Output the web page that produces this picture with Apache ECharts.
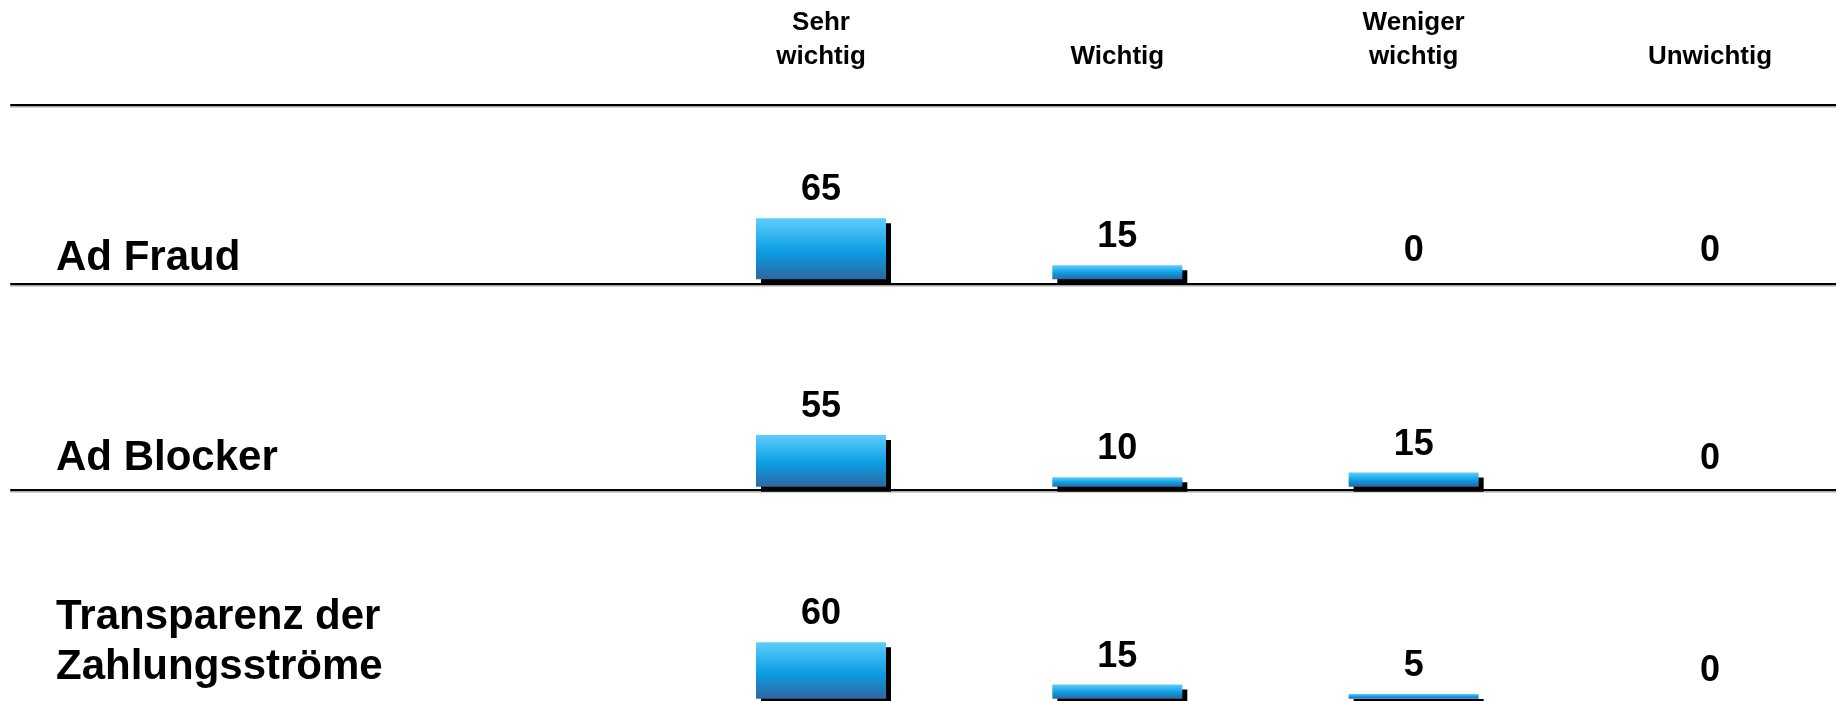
<!DOCTYPE html>
<html>
<head>
<meta charset="utf-8">
<script src="https://cdn.jsdelivr.net/npm/echarts@6/dist/echarts.min.js"></script>
<style>
html,body{margin:0;padding:0;background:#fff;}
#chart{width:1836px;height:701px;}
</style>
</head>
<body>
<div id="chart"></div>
<script>
// ---- data ----
var categories = ['Sehr wichtig', 'Wichtig', 'Weniger wichtig', 'Unwichtig'];
var headerLabels = ['Sehr\nwichtig', 'Wichtig', 'Weniger\nwichtig', 'Unwichtig'];
var rowLabels = ['Ad Fraud', 'Ad Blocker', 'Transparenz der\nZahlungsströme'];
var adFraud = [65, 15, 0, 0];
var adBlocker = [55, 10, 15, 0];
var transparenz = [60, 15, 5, 0];

// ---- layout ----
var FONT = 'Liberation Sans, Arial, Helvetica, sans-serif';
var lineYs = [105, 284, 490, 703];          // separator lines (header + rows)
var barBottoms = [279.3, 486.7, 698.7];     // bar baselines
var plotH = 94;                             // px for value 100
var colLeft = 821, colRight = 126;          // first / last column centres
var labelTops = [233, 433.5, 592.5];

var grids = [], xAxes = [], yAxes = [], series = [], titles = [];

// separator lines
lineYs.forEach(function (y) {
  grids.push({left: 11, right: 0, top: y, height: 10});
  xAxes.push({
    gridIndex: grids.length - 1, type: 'value', position: 'top', min: 0, max: 1,
    axisLine: {show: true, onZero: false, lineStyle: {color: '#000', width: 2, shadowColor: 'rgba(0,0,0,0.35)', shadowOffsetY: 1.5}},
    axisTick: {show: false}, axisLabel: {show: false}, splitLine: {show: false}
  });
  yAxes.push({gridIndex: grids.length - 1, type: 'value', min: 0, max: 1, show: false});
});

// header labels
grids.push({left: colLeft, right: colRight, top: 105, height: 1});
xAxes.push({
  gridIndex: grids.length - 1, type: 'category', position: 'top', data: headerLabels, boundaryGap: false,
  axisLine: {show: false, onZero: false}, axisTick: {show: false}, splitLine: {show: false},
  axisLabel: {interval: 0, margin: 31, fontSize: 26, lineHeight: 34, fontWeight: 'bold', color: '#000', fontFamily: FONT, align: 'center'}
});
yAxes.push({gridIndex: grids.length - 1, type: 'value', show: false});

// bar rows
var rowData = [adFraud, adBlocker, transparenz];
rowData.forEach(function (vals, i) {
  grids.push({left: colLeft, right: colRight, top: barBottoms[i] - plotH, height: plotH});
  var gi = grids.length - 1;
  xAxes.push({gridIndex: gi, type: 'category', data: categories, boundaryGap: false, show: false});
  yAxes.push({gridIndex: gi, type: 'value', min: 0, max: 100, show: false});
  series.push({
    type: 'bar', name: rowLabels[i], xAxisIndex: gi, yAxisIndex: gi, data: vals,
    barWidth: 130,
    itemStyle: {
      color: new echarts.graphic.LinearGradient(0, 0, 0, 1, [
        {offset: 0, color: '#5FCDFC'},
        {offset: 0.55, color: '#0A9DE2'},
        {offset: 1, color: '#2F67A1'}
      ]),
      shadowColor: '#000', shadowBlur: 0, shadowOffsetX: 5, shadowOffsetY: 5
    },
    label: {show: true, position: 'top', distance: 10, fontSize: 36, fontWeight: 'bold', color: '#000', fontFamily: FONT}
  });
  titles.push({
    text: rowLabels[i], left: 56, top: labelTops[i], padding: 0,
    textStyle: {fontSize: 42, lineHeight: 50, fontWeight: 'bold', color: '#000', fontFamily: FONT}
  });
});

var chart = echarts.init(document.getElementById('chart'), null, {renderer: 'canvas'});
chart.setOption({
  animation: false,
  backgroundColor: '#fff',
  title: titles,
  grid: grids,
  xAxis: xAxes,
  yAxis: yAxes,
  series: series
});
</script>
</body>
</html>
